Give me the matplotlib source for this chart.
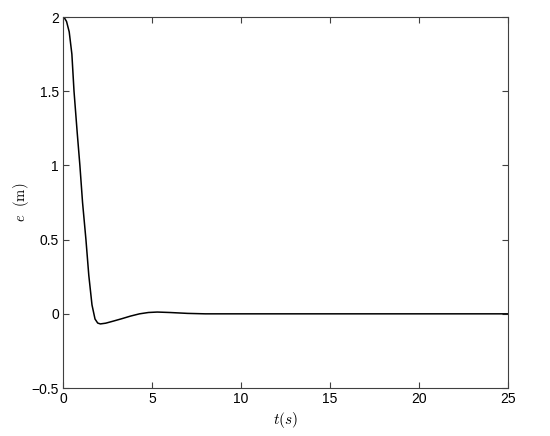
import numpy as np
import matplotlib.pyplot as plt

# Fehlerverlauf e(t)
t_vals = [0, 0.1, 0.2, 0.35, 0.5, 0.62, 0.8, 0.95, 1.1, 1.29, 1.45, 1.63, 1.8, 1.95,
          2.1, 2.4, 2.8, 3.3, 3.8, 4.3, 4.8, 5.3, 6.0, 7.0, 8.0, 25.0]
e_vals = [2.0, 1.99, 1.97, 1.9, 1.75, 1.5, 1.22, 1.0, 0.75, 0.5, 0.26, 0.06, -0.035, -0.062,
          -0.068, -0.063, -0.05, -0.033, -0.015, 0.0, 0.009, 0.012, 0.009, 0.003, 0.0, 0.0]

x_ticks = [0, 5, 10, 15, 20, 25]
y_ticks = [-0.5, 0, 0.5, 1, 1.5, 2]
y_tick_labels = ["\u22120.5", "0", "0.5", "1", "1.5", "2"]

plt.rcParams['font.family'] = ['Liberation Sans', 'DejaVu Sans']
plt.rcParams['mathtext.fontset'] = 'cm'

fig = plt.figure(figsize=(5.5, 4.36), dpi=100)
ax = fig.add_axes([0.1145, 0.110, 0.8091, 0.851])

ax.plot(t_vals, e_vals, color="black", linewidth=1.1)

ax.set_xlim(0, 25)
ax.set_ylim(-0.5, 2)
ax.set_xticks(x_ticks)
ax.set_xticklabels([str(v) for v in x_ticks])
ax.set_yticks(y_ticks)
ax.set_yticklabels(y_tick_labels)
ax.tick_params(direction="in", top=True, right=True, length=4.5, width=0.8,
               labelsize=10, color="#404040", pad=3)
for s in ax.spines.values():
    s.set_color("#404040")
    s.set_linewidth(0.8)

ax.set_xlabel(r"$t(s)$", fontsize=11, labelpad=3)
ax.set_ylabel(r"$e\ \ (\mathrm{m})$", fontsize=10.5, labelpad=0)

fig.savefig("out.png", dpi=100)
